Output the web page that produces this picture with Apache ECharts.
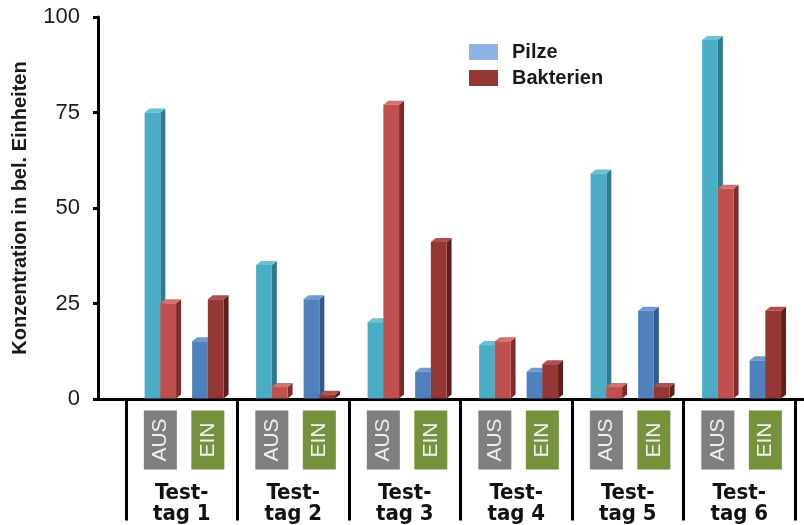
<!DOCTYPE html>
<html>
<head>
<meta charset="utf-8">
<script src="https://cdn.jsdelivr.net/npm/echarts@6/dist/echarts.min.js"></script>
<style>
  html, body { margin: 0; padding: 0; background: #fff; }
  #chart { width: 804px; height: 525px; }
</style>
</head>
<body>
<div id="chart"></div>
<script>
// Test days and the two operating modes per day
const days = ['Test-\ntag 1', 'Test-\ntag 2', 'Test-\ntag 3', 'Test-\ntag 4', 'Test-\ntag 5', 'Test-\ntag 6'];
const modes = ['AUS', 'EIN'];

// Concentrations (arbitrary units)
const pilzeAus = [75, 35, 20, 14, 59, 94];
const pilzeEin = [15, 26, 7, 7, 23, 10];
const bakterienAus = [25, 3, 77, 15, 3, 55];
const bakterienEin = [26, 1, 41, 9, 3, 23];

const yTicks = [0, 25, 50, 75, 100];

// Face colours per organism and mode: front, side, top
const faces = {
  Pilze: { AUS: ['#4bacc6', '#2e7b90', '#6cc0d6'], EIN: ['#4f81bd', '#2f5a8c', '#6e9ad0'] },
  Bakterien: { AUS: ['#c0504d', '#7e2c2a', '#d2726f'], EIN: ['#953735', '#5e1f1e', '#b04f4c'] }
};
const modeColors = { AUS: '#7f7f7f', EIN: '#76923c' };

// Placement of the two bar pairs inside one day band (fractions of the band)
const groupCenter = [0.308, 0.734];
const barFrac = 0.141;
const depth = [5, 4];

function pairData(aus, ein) {
  const out = [];
  days.forEach((d, i) => {
    out.push([i, aus[i], 0]);
    out.push([i, ein[i], 1]);
  });
  return out;
}

function barRenderer(name, slot) {
  return function (params, api) {
    const day = api.value(0), val = api.value(1), mode = api.value(2);
    const band = api.size([1, 0])[0];
    const center = api.coord([day, 0])[0];
    const base = api.coord([day, 0])[1];
    const top = api.coord([day, val])[1];
    const w = band * barFrac;
    const gx = center - band / 2 + band * groupCenter[mode];
    const x0 = slot === 0 ? gx - w : gx;
    const x1 = x0 + w;
    const dx = depth[0], dy = depth[1];
    const c = faces[name][modes[mode]];
    return {
      type: 'group',
      children: [
        { type: 'polygon', shape: { points: [[x1, base], [x1 + dx, base - dy], [x1 + dx, top - dy], [x1, top]] }, style: { fill: c[1] } },
        { type: 'polygon', shape: { points: [[x0, top], [x0 + dx, top - dy], [x1 + dx, top - dy], [x1, top]] }, style: { fill: c[2] } },
        { type: 'rect', shape: { x: x0, y: top, width: w, height: base - top }, style: { fill: c[0] } }
      ]
    };
  };
}

function modeLabelRenderer(params, api) {
  const day = api.value(0), mode = api.value(2);
  const band = api.size([1, 0])[0];
  const center = api.coord([day, 0])[0];
  const base = api.coord([day, 0])[1];
  const gx = center - band / 2 + band * groupCenter[mode];
  const bw = 33, h = 59, top = base + 12;
  return {
    type: 'group',
    children: [
      { type: 'rect', shape: { x: gx - bw / 2, y: top, width: bw, height: h }, style: { fill: modeColors[modes[mode]] } },
      {
        type: 'text', x: gx, y: top + h / 2, rotation: Math.PI / 2,
        style: { text: modes[mode], fill: '#f0f0f0', font: '21px "Liberation Sans", Arial, sans-serif', align: 'center', verticalAlign: 'middle' }
      }
    ]
  };
}

const modeLabelData = [];
days.forEach((d, i) => modes.forEach((m, j) => modeLabelData.push([i, 0, j])));

const chart = echarts.init(document.getElementById('chart'), null, { renderer: 'canvas' });
chart.setOption({
  animation: false,
  backgroundColor: '#ffffff',
  legend: {
    data: ['Pilze', 'Bakterien'],
    orient: 'vertical',
    left: 469,
    top: 42,
    padding: 0,
    icon: 'rect',
    itemWidth: 29,
    itemHeight: 16,
    itemGap: 6,
    textStyle: { fontSize: 20, fontWeight: 'bold', color: '#1a1a1a', fontFamily: 'Liberation Sans', padding: [0, 0, 0, 9] }
  },
  grid: [
    { left: 98, right: 1, top: 17, bottom: 126 },
    { left: 126, right: 9, top: 17, bottom: 126 }
  ],
  xAxis: [
    {
      gridIndex: 0, type: 'value', min: 0, max: 1,
      axisLine: { show: true, lineStyle: { color: '#000', width: 3 } },
      axisTick: { show: false }, axisLabel: { show: false }, splitLine: { show: false }
    },
    {
      gridIndex: 1, type: 'category', data: days, boundaryGap: true,
      axisLine: { show: false },
      axisTick: { show: true, interval: 0, length: 122, lineStyle: { color: '#000', width: 3 } },
      axisLabel: {
        interval: 0, margin: 84, fontSize: 22, fontWeight: 'bold', lineHeight: 21,
        fontFamily: '"Liberation Sans Narrow", "DejaVu Sans Condensed", sans-serif', color: '#111'
      },
      splitLine: { show: false }
    }
  ],
  yAxis: [
    {
      gridIndex: 0, type: 'value', min: yTicks[0], max: yTicks[yTicks.length - 1], interval: 25,
      name: 'Konzentration in bel. Einheiten', nameLocation: 'middle', nameGap: 68,
      nameTextStyle: { fontSize: 20, fontWeight: 'bold', color: '#1a1a1a', fontFamily: 'Liberation Sans' },
      axisLine: { show: true, lineStyle: { color: '#000', width: 3 } },
      axisTick: { show: true, length: 5, lineStyle: { color: '#000', width: 3 } },
      axisLabel: { fontSize: 22, margin: 18, color: '#1a1a1a', fontFamily: 'Liberation Sans' },
      splitLine: { show: false }
    },
    {
      gridIndex: 1, type: 'value', min: yTicks[0], max: yTicks[yTicks.length - 1], show: false,
      splitLine: { show: false }
    }
  ],
  series: [
    {
      name: 'Pilze', type: 'custom', xAxisIndex: 1, yAxisIndex: 1, clip: false,
      itemStyle: { color: '#8db4e2' },
      data: pairData(pilzeAus, pilzeEin),
      renderItem: barRenderer('Pilze', 0)
    },
    {
      name: 'Bakterien', type: 'custom', xAxisIndex: 1, yAxisIndex: 1, clip: false,
      itemStyle: { color: '#953735' },
      data: pairData(bakterienAus, bakterienEin),
      renderItem: barRenderer('Bakterien', 1)
    },
    {
      name: 'Modus', type: 'custom', xAxisIndex: 1, yAxisIndex: 1, clip: false, silent: true,
      data: modeLabelData,
      renderItem: modeLabelRenderer
    }
  ]
});
</script>
</body>
</html>
